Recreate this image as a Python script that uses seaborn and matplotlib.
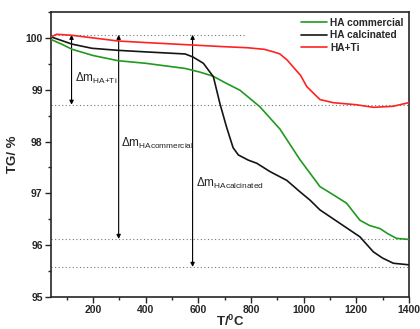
import matplotlib
matplotlib.use("Agg")
import matplotlib.pyplot as plt
import seaborn as sns
import pandas as pd
from matplotlib.ticker import MultipleLocator

# ---- data ----
T_comm = [40, 80, 120, 200, 295, 400, 550, 606, 656, 700, 758, 834, 910, 986,
          1062, 1110, 1163, 1214, 1250, 1290, 1320, 1353, 1400]
tg_comm = [99.97, 99.88, 99.78, 99.66, 99.56, 99.51, 99.41, 99.34, 99.26, 99.14,
           98.99, 98.67, 98.24, 97.65, 97.13, 96.98, 96.81, 96.48, 96.38, 96.32,
           96.22, 96.13, 96.11]

T_calc = [40, 120, 195, 295, 400, 550, 580, 619, 657, 682, 707, 732, 752, 790,
          822, 872, 936, 986, 1024, 1062, 1138, 1214, 1265, 1300, 1341, 1400]
tg_calc = [100.02, 99.88, 99.80, 99.76, 99.73, 99.69, 99.63, 99.51, 99.25, 98.73,
           98.28, 97.88, 97.74, 97.64, 97.58, 97.42, 97.25, 97.03, 96.87, 96.68,
           96.42, 96.16, 95.87, 95.75, 95.65, 95.62]

T_ti = [40, 62, 120, 200, 295, 400, 550, 700, 787, 850, 886, 910, 938, 960, 988,
        1012, 1040, 1062, 1112, 1200, 1265, 1340, 1400]
tg_ti = [100.02, 100.07, 100.05, 100.00, 99.94, 99.91, 99.87, 99.83, 99.81, 99.78,
         99.73, 99.69, 99.57, 99.44, 99.28, 99.06, 98.92, 98.81, 98.75, 98.71,
         98.66, 98.68, 98.75]

series_names = ["HA commercial", "HA calcinated", "HA+Ti"]
series_colors = ["#1f9a1f", "#151515", "#ff2222"]

# reference levels (dotted lines) and arrows
level_top = 100.06
level_ti = 98.71
level_comm = 96.12
level_calc = 95.58
top_line_end = 780
arrow_T = [118, 297, 578]
arrow_bottoms = [level_ti, level_comm, level_calc]
delta_labels = ["HA{+}Ti", "HAcommercial", "HAcalcinated"]
label_pos = [(131, 99.15), (306, 97.90), (591, 97.12)]

df = pd.concat([
    pd.DataFrame({"T": T_comm, "TG": tg_comm, "sample": series_names[0]}),
    pd.DataFrame({"T": T_calc, "TG": tg_calc, "sample": series_names[1]}),
    pd.DataFrame({"T": T_ti, "TG": tg_ti, "sample": series_names[2]}),
])

sns.set_style("ticks")
plt.rcParams["font.family"] = ["Liberation Sans", "DejaVu Sans"]
plt.rcParams["mathtext.fontset"] = "custom"
plt.rcParams["mathtext.rm"] = "Liberation Sans"
plt.rcParams["mathtext.bf"] = "Liberation Sans:bold"

fig = plt.figure(figsize=(4.2, 3.29), dpi=100)
ax = fig.add_axes([0.1215, 0.0975, 0.852, 0.866])

# dotted reference lines
ax.plot([40, top_line_end], [level_top, level_top], color="#777777", lw=0.8,
        ls=(0, (1, 2.2)), zorder=1)
for lv in [level_ti, level_comm, level_calc]:
    ax.plot([40, 1400], [lv, lv], color="#777777", lw=0.8, ls=(0, (1, 2.2)), zorder=1)

sns.lineplot(data=df, x="T", y="TG", hue="sample", hue_order=series_names,
             palette=series_colors, lw=1.2, ax=ax, sort=False, zorder=3)

# arrows
for xa, yb in zip(arrow_T, arrow_bottoms):
    ax.annotate("", xy=(xa, yb), xytext=(xa, level_top),
                arrowprops=dict(arrowstyle="<|-|>", color="black", lw=0.8,
                                mutation_scale=6, shrinkA=0, shrinkB=0), zorder=2)

for (xt, yt), lab in zip(label_pos, delta_labels):
    ax.text(xt, yt, "Δm$_{\\mathregular{" + lab + "}}$", fontsize=8.5,
            ha="left", va="baseline", color="#222222")

ax.set_xlim(40, 1400)
ax.set_ylim(95, 100.5)
ax.xaxis.set_major_locator(MultipleLocator(200))
ax.xaxis.set_minor_locator(MultipleLocator(100))
ax.yaxis.set_major_locator(MultipleLocator(1))
ax.yaxis.set_minor_locator(MultipleLocator(0.5))
ax.tick_params(axis="both", which="major", direction="out", length=4, width=1,
               labelsize=7.5, pad=2)
ax.tick_params(axis="both", which="minor", direction="out", length=2.5, width=1)
for lbl in ax.get_xticklabels() + ax.get_yticklabels():
    lbl.set_fontweight("bold")
for sp in ax.spines.values():
    sp.set_linewidth(1.2)
    sp.set_visible(True)

ax.set_xlabel("T/$^{\\mathbf{0}}$C", fontsize=9.5, fontweight="bold", labelpad=-1)
ax.set_ylabel("TG/ %", fontsize=9.5, fontweight="bold", labelpad=5)

leg = ax.legend(loc="upper right", frameon=False, handlelength=2.6,
                handletextpad=0.3, labelspacing=0.25, borderaxespad=0.15,
                prop={"weight": "bold", "size": 7.3})
for t in leg.get_texts():
    t.set_fontweight("bold")

fig.savefig("out.png", dpi=100)
